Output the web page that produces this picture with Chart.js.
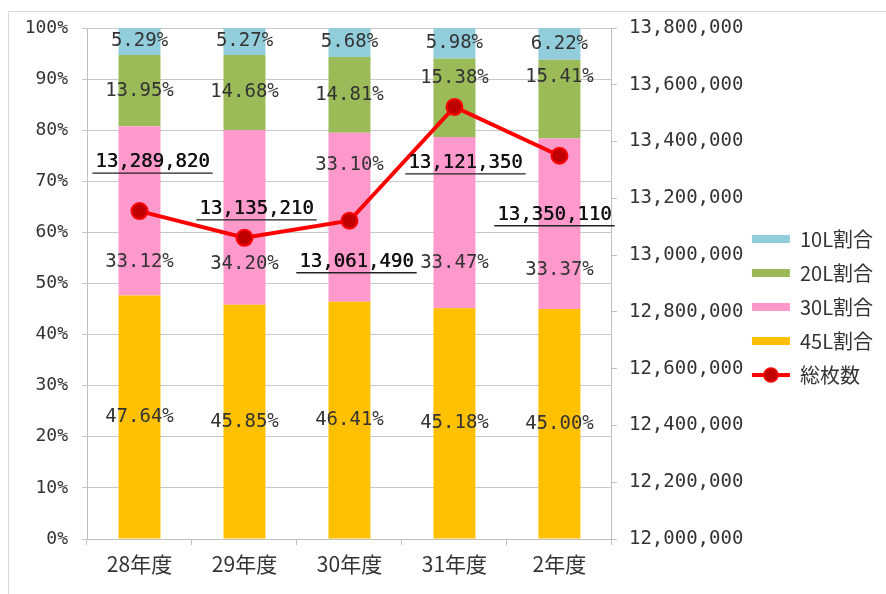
<!DOCTYPE html>
<html>
<head>
<meta charset="utf-8">
<script src="https://cdn.jsdelivr.net/npm/chart.js@4.4.1/dist/chart.umd.min.js"></script>
<style>
    html, body { margin: 0; padding: 0; background: #fff; }
    #frame { position: absolute; left: 8px; top: 11px; right: 0; bottom: 0;
             border-left: 1px solid #d9d9d9; border-top: 1px solid #d9d9d9; }
    #wrap { position: absolute; left: 0; top: 0; width: 886px; height: 594px; }
</style>
</head>
<body>
<div id="frame"></div>
<div id="wrap"><canvas id="chart"></canvas></div>
<script>
// 年度
const years = ['28年度', '29年度', '30年度', '31年度', '2年度'];

// 割合 (%)
const share10 = [5.29, 5.27, 5.68, 5.98, 6.22];
const share20 = [13.95, 14.68, 14.81, 15.38, 15.41];
const share30 = [33.12, 34.20, 33.10, 33.47, 33.37];
const share45 = [47.64, 45.85, 46.41, 45.18, 45.00];

// 総枚数 - 折れ線の位置は図から読み取った値
const totalSheets = [13155000, 13061000, 13121000, 13522000, 13350000];
// 図中に書かれている総枚数の表示
const totalLabels = [13289820, 13135210, 13061490, 13121350, 13350110];

// 右軸の目盛り
const rightMin = 12000000;
const rightMax = 13800000;
const rightStep = 200000;

const monoFont = '"DejaVu Sans Mono", "Liberation Mono", monospace';
const jpFont = '"Noto Sans CJK JP", "Noto Sans", sans-serif';
const textColor = '#333';

// 棒の中と折れ線のラベルを描く
const valueLabels = {
    id: 'valueLabels',
    afterLayout(chart, args, opts) {
        // 凡例を右軸ラベルの方へ少し寄せる
        const lg = chart.legend;
        if (!lg) return;
        const dx = opts.legendShift[0];
        const dy = opts.legendShift[1];
        lg.left += dx; lg.right += dx;
        lg.top += dy; lg.bottom += dy;
        (lg.legendHitBoxes || []).forEach(h => { h.top += dy; });
    },
    afterDatasetsDraw(chart, args, opts) {
        const ctx = chart.ctx;
        ctx.save();
        ctx.font = '19px ' + monoFont;
        ctx.fillStyle = textColor;
        ctx.textAlign = 'center';
        ctx.textBaseline = 'middle';

        chart.data.datasets.forEach((ds, di) => {
            if (ds.type === 'line') return;
            const meta = chart.getDatasetMeta(di);
            const shift = opts.shifts[ds.label] || [];
            meta.data.forEach((bar, i) => {
                const y = (bar.y + bar.base) / 2 + (shift[i] || 0);
                ctx.fillText(ds.data[i].toFixed(2) + '%', bar.x, y);
            });
        });

        // 総枚数（下線付き）
        const lineIdx = chart.data.datasets.findIndex(d => d.type === 'line');
        const lineMeta = chart.getDatasetMeta(lineIdx);
        ctx.fillStyle = '#111';
        ctx.strokeStyle = '#222';
        ctx.lineWidth = 1.3;
        lineMeta.data.forEach((pt, i) => {
            const off = opts.lineOffsets[i];
            const x = pt.x + off[0];
            const y = pt.y + off[1];
            const text = totalLabels[i].toLocaleString('en-US');
            ctx.fillText(text, x, y);
            ctx.fillText(text, x + 0.4, y);
            const w = ctx.measureText(text).width;
            ctx.beginPath();
            ctx.moveTo(x - w / 2 - 3, y + 11);
            ctx.lineTo(x + w / 2 + 3, y + 11);
            ctx.stroke();
        });
        ctx.restore();
    },
    afterDraw(chart) {
        // 凡例の折れ線マーカー
        const legend = chart.legend;
        if (!legend || !legend.legendItems) return;
        const idx = legend.legendItems.findIndex(it => it.text === '総枚数');
        if (idx < 0) return;
        const box = legend.legendHitBoxes[idx];
        const ctx = chart.ctx;
        const cy = box.top + box.height / 2;
        ctx.save();
        ctx.strokeStyle = '#FF0000';
        ctx.lineWidth = 4;
        ctx.beginPath();
        ctx.moveTo(box.left, cy);
        ctx.lineTo(box.left + 38, cy);
        ctx.stroke();
        ctx.fillStyle = '#C00000';
        ctx.strokeStyle = '#FF0000';
        ctx.lineWidth = 1.5;
        ctx.beginPath();
        ctx.arc(box.left + 19, cy, 7, 0, Math.PI * 2);
        ctx.fill();
        ctx.stroke();
        ctx.restore();
    }
};

const legendRank = { '10L割合': 0, '20L割合': 1, '30L割合': 2, '45L割合': 3, '総枚数': 4 };

new Chart(document.getElementById('chart'), {
    type: 'bar',
    data: {
        labels: years,
        datasets: [
            { type: 'bar', label: '45L割合', data: share45, backgroundColor: '#FFC000', order: 1 },
            { type: 'bar', label: '30L割合', data: share30, backgroundColor: '#FF99CC', order: 1 },
            { type: 'bar', label: '20L割合', data: share20, backgroundColor: '#9BBB59', order: 1 },
            { type: 'bar', label: '10L割合', data: share10, backgroundColor: '#92CDDC', order: 1 },
            {
                type: 'line',
                label: '総枚数',
                data: totalSheets,
                yAxisID: 'y1',
                borderColor: '#FF0000',
                borderWidth: 4,
                pointRadius: 8,
                pointBackgroundColor: '#C00000',
                pointBorderColor: '#FF0000',
                pointBorderWidth: 2,
                tension: 0,
                order: 0
            }
        ]
    },
    options: {
        responsive: true,
        maintainAspectRatio: false,
        animation: false,
        layout: { padding: { top: 28, right: -5, left: 0, bottom: 0 } },
        datasets: { bar: { barPercentage: 0.4, categoryPercentage: 1 } },
        scales: {
            x: {
                stacked: true,
                grid: { drawOnChartArea: false, tickLength: 6, color: '#bfbfbf' },
                border: { color: '#bfbfbf' },
                ticks: { font: { family: jpFont, size: 21 }, color: textColor, padding: 6 },
                afterFit(scale) { scale.height = 55; }
            },
            y: {
                stacked: true,
                position: 'left',
                min: 0,
                max: 100,
                ticks: {
                    stepSize: 10,
                    callback: v => v + '%',
                    font: { family: monoFont, size: 18 },
                    color: textColor,
                    padding: 14
                },
                grid: { color: '#c8c8c8', tickLength: 5 },
                border: { color: '#bfbfbf' },
                afterFit(scale) { scale.width = 87; }
            },
            y1: {
                position: 'right',
                min: rightMin,
                max: rightMax,
                ticks: {
                    stepSize: rightStep,
                    callback: v => v.toLocaleString('en-US'),
                    font: { family: monoFont, size: 19 },
                    color: textColor,
                    padding: 12
                },
                grid: { drawOnChartArea: false, tickLength: 5, color: '#bfbfbf' },
                border: { color: '#bfbfbf' },
                afterFit(scale) { scale.width = 134; }
            }
        },
        plugins: {
            legend: {
                position: 'right',
                align: 'center',
                labels: {
                    boxWidth: 38,
                    boxHeight: 8,
                    padding: 14,
                    color: textColor,
                    font: { family: jpFont, size: 20 },
                    sort: (a, b) => legendRank[a.text] - legendRank[b.text],
                    generateLabels(chart) {
                        const items = Chart.defaults.plugins.legend.labels.generateLabels(chart);
                        items.forEach(it => {
                            it.lineWidth = 0;
                            if (it.text === '総枚数') {
                                it.fillStyle = 'rgba(0,0,0,0)';
                                it.strokeStyle = 'rgba(0,0,0,0)';
                            }
                        });
                        return items;
                    }
                }
            },
            tooltip: { enabled: false },
            valueLabels: {
                // ラベルを棒の中心から上下にずらす量
                shifts: {
                    '30L割合': [51, 47, -52, 40, 46],
                    '20L割合': [0, 0, 0, -20, -22]
                },
                lineOffsets: [[13, -49], [12, -29], [7, 41], [11, 56], [-5, 59]],
                legendShift: [-8, -4]
            }
        }
    },
    plugins: [valueLabels]
});
</script>
</body>
</html>
